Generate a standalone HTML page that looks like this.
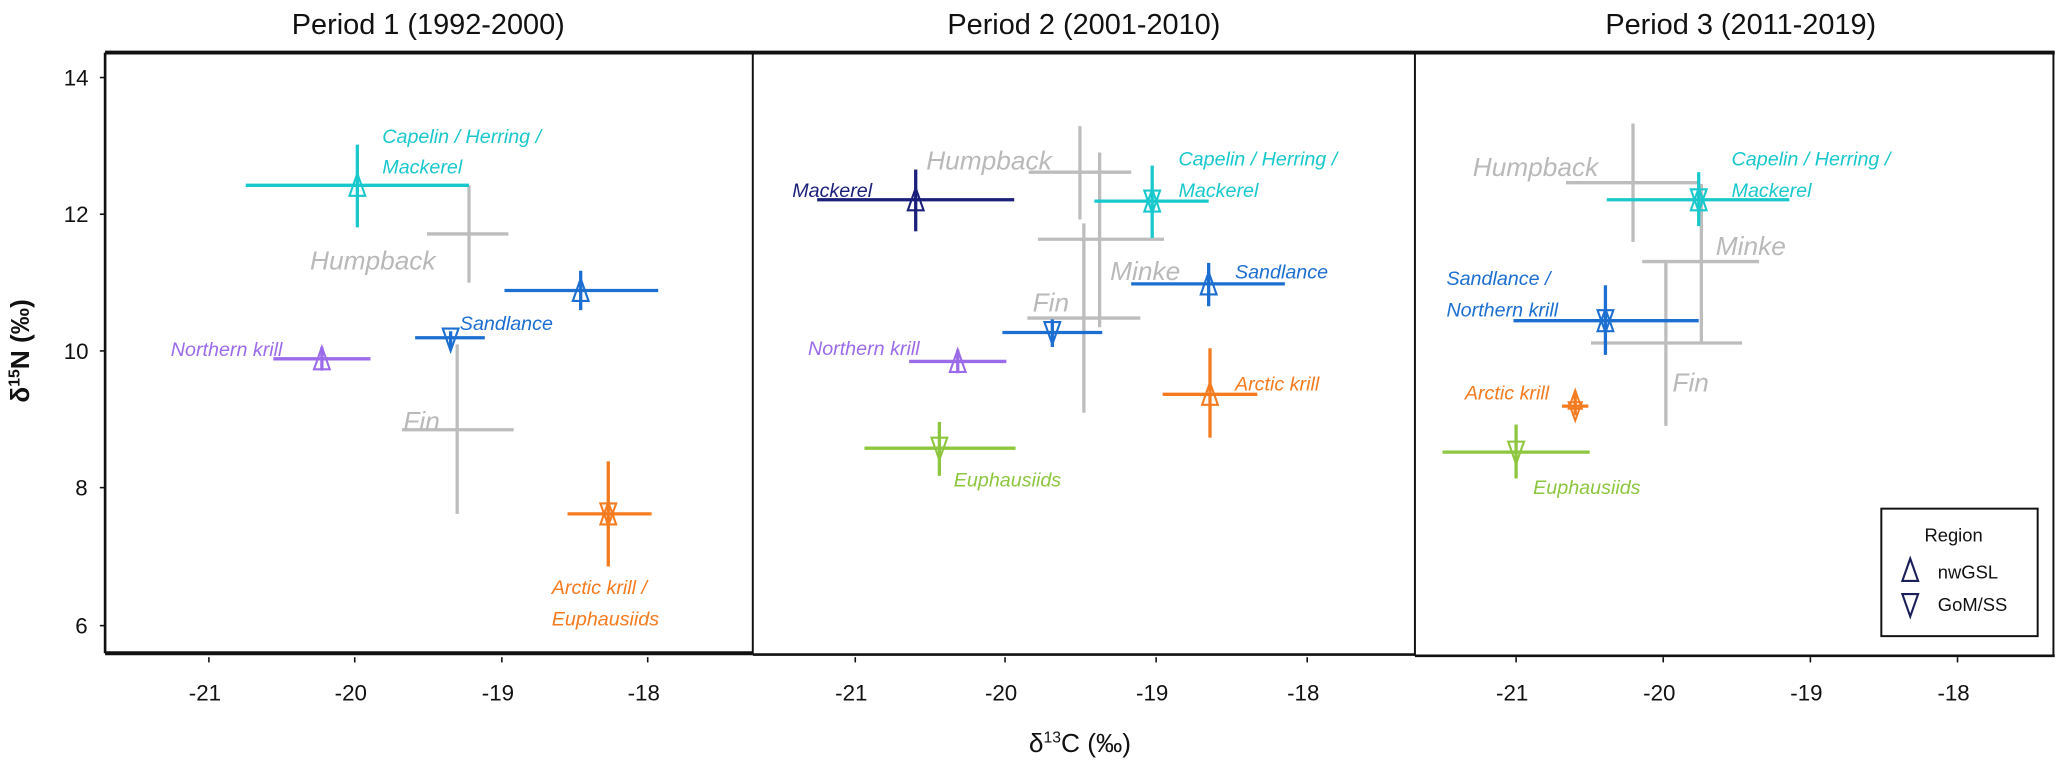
<!DOCTYPE html>
<html><head><meta charset="utf-8"><style>
html,body{margin:0;padding:0;background:#fff;}
svg{display:block;}
text{font-family:"Liberation Sans",sans-serif;}
.l{font-style:italic;font-size:15px;}
.b{font-style:italic;font-size:20px;fill:#b9b9b9;}
.t{font-size:22px;fill:#111;}
.k{font-size:17px;fill:#111;text-anchor:middle;}
</style></head><body>
<svg width="2060" height="761" viewBox="0 0 1568 579" preserveAspectRatio="none" xmlns="http://www.w3.org/2000/svg">
<rect width="1568" height="579" fill="#fff"/>
<text class="t" x="326" y="26" text-anchor="middle">Period 1 (1992-2000)</text>
<text class="t" x="825" y="26" text-anchor="middle">Period 2 (2001-2010)</text>
<text class="t" x="1325" y="26" text-anchor="middle">Period 3 (2011-2019)</text>
<g fill="none" stroke="#111">
<line x1="80" y1="40" x2="1564" y2="40" stroke-width="3"/>
<line x1="80" y1="497" x2="573" y2="497" stroke-width="3"/>
<line x1="573" y1="498" x2="1077" y2="498" stroke-width="2"/>
<line x1="1077" y1="499" x2="1564" y2="499" stroke-width="2"/>
<line x1="80" y1="40" x2="80" y2="497" stroke-width="2"/>
<line x1="573" y1="40" x2="573" y2="498" stroke-width="1.5"/>
<line x1="1077" y1="40" x2="1077" y2="499" stroke-width="1.5"/>
<line x1="1563" y1="40" x2="1563" y2="499" stroke-width="1.5"/>
</g>
<g stroke="#111" stroke-width="1.2">
<line x1="76" y1="59" x2="80" y2="59"/><line x1="76" y1="163" x2="80" y2="163"/><line x1="76" y1="267" x2="80" y2="267"/><line x1="76" y1="371" x2="80" y2="371"/><line x1="76" y1="476" x2="80" y2="476"/>
<line x1="159" y1="500" x2="159" y2="504"/><line x1="270" y1="500" x2="270" y2="504"/><line x1="382" y1="500" x2="382" y2="504"/><line x1="493" y1="500" x2="493" y2="504"/>
<line x1="651" y1="500" x2="651" y2="504"/><line x1="765" y1="500" x2="765" y2="504"/><line x1="880" y1="500" x2="880" y2="504"/><line x1="995" y1="500" x2="995" y2="504"/>
<line x1="1154" y1="500" x2="1154" y2="504"/><line x1="1266" y1="500" x2="1266" y2="504"/><line x1="1378" y1="500" x2="1378" y2="504"/><line x1="1490" y1="500" x2="1490" y2="504"/>
</g>
<g class="k">
<text x="58" y="65" class="k">14</text><text x="58" y="169" class="k">12</text><text x="58" y="273" class="k">10</text><text x="62" y="377" class="k">8</text><text x="62" y="482" class="k">6</text>
<text x="156" y="533" class="k">-21</text><text x="267" y="533" class="k">-20</text><text x="379" y="533" class="k">-19</text><text x="490" y="533" class="k">-18</text>
<text x="648" y="533" class="k">-21</text><text x="762" y="533" class="k">-20</text><text x="877" y="533" class="k">-19</text><text x="992" y="533" class="k">-18</text>
<text x="1151" y="533" class="k">-21</text><text x="1263" y="533" class="k">-20</text><text x="1375" y="533" class="k">-19</text><text x="1487" y="533" class="k">-18</text>
</g>
<text x="822" y="572" text-anchor="middle" style="font-size:20px;fill:#111">δ<tspan dy="-7" style="font-size:12px">13</tspan><tspan dy="7">C (‰)</tspan></text>
<text transform="translate(22,267) rotate(-90)" text-anchor="middle" style="font-size:20px;fill:#111;font-weight:bold">δ<tspan dy="-7" style="font-size:12px">15</tspan><tspan dy="7">N (‰)</tspan></text>

<defs>
<path id="u" d="M-6,8 L0,-9 L6,8 Z" fill="none" stroke-width="1.6"/>
<path id="d" d="M-6,-8 L0,9 L6,-8 Z" fill="none" stroke-width="1.6"/>
</defs>

<g stroke-width="2.5" fill="none">
<g stroke="#bdbdbd"><line x1="325" y1="178" x2="387" y2="178"/><line x1="357" y1="141" x2="357" y2="215"/>
<line x1="306" y1="327" x2="391" y2="327"/><line x1="348" y1="262" x2="348" y2="391"/></g>
<g stroke="#19c8cc"><line x1="187" y1="141" x2="357" y2="141"/><line x1="272" y1="110" x2="272" y2="173"/><use href="#u" x="272" y="141"/></g>
<g stroke="#1c6fd1"><line x1="384" y1="221" x2="501" y2="221"/><line x1="442" y1="206" x2="442" y2="236"/><use href="#u" x="442" y="221"/>
<line x1="316" y1="257" x2="369" y2="257"/><line x1="343" y1="252" x2="343" y2="265"/><use href="#d" x="343" y="258"/></g>
<g stroke="#9b6bea"><line x1="208" y1="273" x2="282" y2="273"/><line x1="245" y1="264" x2="245" y2="282"/><use href="#u" x="245" y="273"/></g>
<g stroke="#f47b20"><line x1="432" y1="391" x2="496" y2="391"/><line x1="463" y1="351" x2="463" y2="431"/><use href="#u" x="463" y="391"/><use href="#d" x="463" y="391"/></g>
<g stroke="#bdbdbd"><line x1="783" y1="131" x2="861" y2="131"/><line x1="822" y1="96" x2="822" y2="167"/>
<line x1="790" y1="182" x2="886" y2="182"/><line x1="837" y1="116" x2="837" y2="249"/>
<line x1="782" y1="242" x2="868" y2="242"/><line x1="825" y1="170" x2="825" y2="314"/></g>
<g stroke="#1a1f7a"><line x1="622" y1="152" x2="772" y2="152"/><line x1="697" y1="129" x2="697" y2="176"/><use href="#u" x="697" y="152"/></g>
<g stroke="#19c8cc"><line x1="833" y1="153" x2="920" y2="153"/><line x1="877" y1="126" x2="877" y2="181"/><use href="#u" x="877" y="153"/><use href="#d" x="877" y="153"/></g>
<g stroke="#1c6fd1"><line x1="861" y1="216" x2="978" y2="216"/><line x1="920" y1="200" x2="920" y2="233"/><use href="#u" x="920" y="216"/>
<line x1="763" y1="253" x2="839" y2="253"/><line x1="801" y1="243" x2="801" y2="264"/><use href="#d" x="801" y="253"/></g>
<g stroke="#9b6bea"><line x1="692" y1="275" x2="766" y2="275"/><line x1="729" y1="266" x2="729" y2="284"/><use href="#u" x="729" y="275"/></g>
<g stroke="#f47b20"><line x1="885" y1="300" x2="957" y2="300"/><line x1="921" y1="265" x2="921" y2="333"/><use href="#u" x="921" y="300"/></g>
<g stroke="#8dc63f"><line x1="658" y1="341" x2="773" y2="341"/><line x1="715" y1="321" x2="715" y2="362"/><use href="#d" x="715" y="341"/></g>
<g stroke="#bdbdbd"><line x1="1192" y1="139" x2="1293" y2="139"/><line x1="1243" y1="94" x2="1243" y2="184"/>
<line x1="1250" y1="199" x2="1339" y2="199"/><line x1="1295" y1="140" x2="1295" y2="262"/>
<line x1="1211" y1="261" x2="1326" y2="261"/><line x1="1268" y1="198" x2="1268" y2="324"/></g>
<g stroke="#19c8cc"><line x1="1223" y1="152" x2="1362" y2="152"/><line x1="1293" y1="131" x2="1293" y2="172"/><use href="#u" x="1293" y="152"/><use href="#d" x="1293" y="152"/></g>
<g stroke="#1c6fd1"><line x1="1152" y1="244" x2="1293" y2="244"/><line x1="1222" y1="217" x2="1222" y2="270"/><use href="#u" x="1222" y="244"/><use href="#d" x="1222" y="244"/></g>
<g stroke="#f47b20"><line x1="1189" y1="309" x2="1209" y2="309"/><line x1="1199" y1="298" x2="1199" y2="316"/><path d="M-5,6 L0,-8 L5,6 Z" transform="translate(1199,305)" stroke-width="1.5"/><path d="M-5,-6 L0,8 L5,-6 Z" transform="translate(1199,312)" stroke-width="1.5"/></g>
<g stroke="#8dc63f"><line x1="1098" y1="344" x2="1210" y2="344"/><line x1="1154" y1="323" x2="1154" y2="364"/><use href="#d" x="1154" y="344"/></g>
</g>

<g class="l">
<text x="291" y="109" fill="#19c8cc">Capelin / Herring /</text><text x="291" y="132" fill="#19c8cc">Mackerel</text>
<text x="350" y="251" fill="#1c6fd1">Sandlance</text>
<text x="130" y="271" fill="#9b6bea">Northern krill</text>
<text x="420" y="452" fill="#f47b20">Arctic krill /</text><text x="420" y="476" fill="#f47b20">Euphausiids</text>
<text x="603" y="150" fill="#1a1f7a">Mackerel</text>
<text x="897" y="126" fill="#19c8cc">Capelin / Herring /</text><text x="897" y="150" fill="#19c8cc">Mackerel</text>
<text x="940" y="212" fill="#1c6fd1">Sandlance</text>
<text x="615" y="270" fill="#9b6bea">Northern krill</text>
<text x="940" y="297" fill="#f47b20">Arctic krill</text>
<text x="726" y="370" fill="#8dc63f">Euphausiids</text>
<text x="1318" y="126" fill="#19c8cc">Capelin / Herring /</text><text x="1318" y="150" fill="#19c8cc">Mackerel</text>
<text x="1101" y="217" fill="#1c6fd1">Sandlance /</text><text x="1101" y="241" fill="#1c6fd1">Northern krill</text>
<text x="1115" y="304" fill="#f47b20">Arctic krill</text>
<text x="1167" y="376" fill="#8dc63f">Euphausiids</text>
</g>
<g class="b">
<text x="236" y="205">Humpback</text><text x="307" y="327">Fin</text>
<text x="705" y="129">Humpback</text><text x="845" y="213">Minke</text><text x="786" y="237">Fin</text>
<text x="1121" y="134">Humpback</text><text x="1306" y="194">Minke</text><text x="1273" y="298">Fin</text>
</g>
<rect x="1432" y="387" width="119" height="97" fill="#fff" stroke="#111" stroke-width="1.5"/>
<text x="1487" y="412" text-anchor="middle" style="font-size:14px;fill:#111">Region</text>
<path d="M-6,8 L0,-9 L6,8 Z" transform="translate(1454,434)" fill="none" stroke="#1a1f5a" stroke-width="1.6"/>
<text x="1475" y="440" style="font-size:14px;fill:#111">nwGSL</text>
<path d="M-6,-8 L0,9 L6,-8 Z" transform="translate(1454,460)" fill="none" stroke="#1a1f5a" stroke-width="1.6"/>
<text x="1475" y="465" style="font-size:14px;fill:#111">GoM/SS</text>
</svg>
</body></html>
